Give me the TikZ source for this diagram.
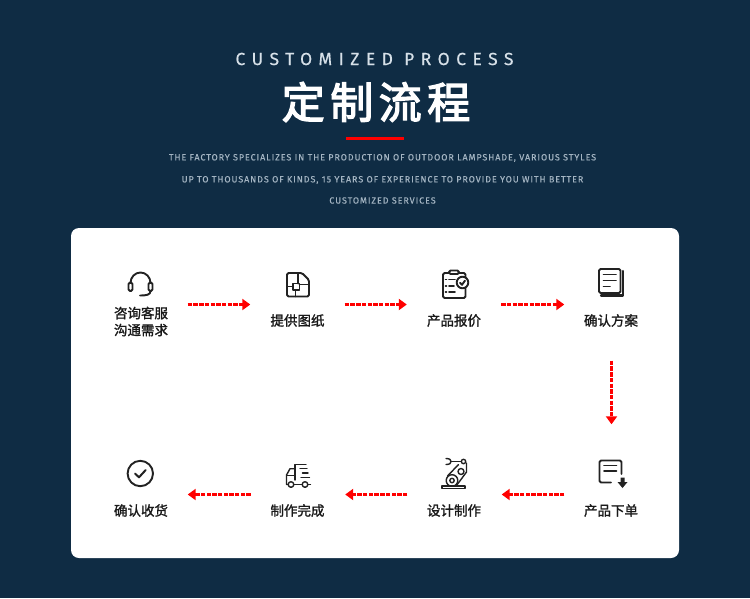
\documentclass[tikz,border=0pt]{standalone}
\usepackage{fontspec}
\setmainfont{Fira Sans}
\newfontfamily\cjk[FakeBold=1.5]{Noto Sans CJK SC}
\newfontfamily\cjkhead[FakeBold=3]{Noto Sans CJK SC}
\newfontfamily\headfont[LetterSpace=37,FakeBold=0.4]{Fira Sans}
\newfontfamily\subfont[LetterSpace=10.5,FakeBold=0.2]{Fira Sans}
\usetikzlibrary{arrows.meta,positioning}
\definecolor{navy}    {HTML}{0F2C44}
\definecolor{ink}     {HTML}{222222}
\definecolor{headtxt} {HTML}{D6E0E8}
\definecolor{subtxt}  {HTML}{A3B4C2}
\definecolor{flow}    {HTML}{FF0000}
\tikzset{
  >=stealth,
  % --- nodes
  slotrow/.style = {minimum width=94pt, minimum height=112pt, inner sep=0pt},
  slotlow/.style = {slotrow, minimum height=140pt},
  lbl/.style   = {font=\cjk\fontsize{13.5}{17}\selectfont, text=black!90, align=center, inner sep=0pt},
  sub/.style   = {font=\subfont\fontsize{8.95}{10}\selectfont, text=subtxt, inner sep=0pt},
  % --- edges
  e/.style     = {draw=flow, line width=2.1pt, dash pattern=on 4.4pt off 1.3pt,
                  -{Triangle[length=8pt,width=11pt]}},
  % --- icons
  ico/.style   = {draw=ink, line width=1.9pt, line cap=round, line join=round},
  icothin/.style = {ico, line width=1.4pt},
}
\begin{document}
\begin{tikzpicture}[x=1pt,y=-1pt]
  \useasboundingbox (0,0) rectangle (750,598);
  \fill[navy] (0,0) rectangle (750,598);
  \fill[white,rounded corners=8pt] (71,228) rectangle (679,558);

  % --- heading
  \node[font=\headfont\fontsize{17.5}{18}\selectfont, text=headtxt, inner sep=0pt] (head) at (374.5,59) {CUSTOMIZED PROCESS};
  \node[font=\cjkhead\fontsize{43}{46}\selectfont, text=white, inner sep=0pt] (title) at (376,102) {定\hspace{5.5pt}制\hspace{5.5pt}流\hspace{5.5pt}程};
  \fill[flow] (346,137) rectangle (404,140);
  \node[sub] (l1) at (382.5,158) {THE FACTORY SPECIALIZES IN THE PRODUCTION OF OUTDOOR LAMPSHADE, VARIOUS STYLES};
  \node[sub] (l2) at (382.5,180) {UP TO THOUSANDS OF KINDS, 15 YEARS OF EXPERIENCE TO PROVIDE YOU WITH BETTER};
  \node[sub] (l3) at (382.5,200.5) {CUSTOMIZED SERVICES};

  % --- slots
  \node[slotrow] (s1) at (140.5,304.5) {};
  \node[slotrow] (s2) at (297.5,304.5) {};
  \node[slotrow] (s3) at (454,304.5) {};
  \node[slotrow] (s4) at (611.5,304.5) {};
  \node[slotlow] (s5) at (611.5,494.5) {};
  \node[slotlow] (s6) at (454.5,494.5) {};
  \node[slotlow] (s7) at (298,494.5) {};
  \node[slotlow] (s8) at (140.5,494.5) {};

  \node[lbl] (t1) at (141,321.5) {咨询客服\\沟通需求};
  \node[lbl] (t2) at (297.5,320.5) {提供图纸};
  \node[lbl] (t3) at (454,320.5) {产品报价};
  \node[lbl] (t4) at (611,320.5) {确认方案};
  \node[lbl] (t5) at (611,510.5) {产品下单};
  \node[lbl] (t6) at (454,510.5) {设计制作};
  \node[lbl] (t7) at (297.5,510.5) {制作完成};
  \node[lbl] (t8) at (141,510.5) {确认收货};

  \draw[e] (s1.east)--(s2.west); \draw[e] (s2.east)--(s3.west); \draw[e] (s3.east)--(s4.west);
  \draw[e] (s4.south)--(s5.north);
  \draw[e] (s5.west)--(s6.east); \draw[e] (s6.west)--(s7.east); \draw[e] (s7.west)--(s8.east);

  % --- headset
  \draw[ico] (130.5,283) arc[start angle=180,end angle=360,x radius=10,y radius=10.5];
  \draw[ico,rounded corners=1.5pt] (128.5,282.5) rectangle (132.5,291);
  \draw[ico,rounded corners=1.5pt] (148.5,282.5) rectangle (152.5,291);
  \draw[ico] (150.5,291) .. controls (150.5,295) and (146,295.5) .. (140,295.5);

  % --- drawing sheet
  \draw[ico,rounded corners=1.5pt] (287,273) -- (302,273) -- (309,280) -- (309,296.5) -- (287,296.5) -- cycle;
  \draw[ico] (293,283.5) rectangle (299.5,290);
  \draw[ico] (287,286.5)--(293,286.5) (299.5,284.5)--(309,284.5) (295.5,290)--(295.5,296.5) (298,273)--(298,283.5);

  % --- clipboard
  \draw[ico,rounded corners=1.5pt] (456,273) -- (465.5,273) -- (465.5,298) -- (443,298) -- (443,273) -- (451,273);
  \draw[ico,fill=white,rounded corners=1.5pt] (449,274) -- (449,270.5) -- (459,270.5) -- (459,274) -- cycle;
  \draw[ico] (445.5,279.5)--(446.5,279.5) (449,279.5)--(455,279.5) (445.5,286)--(446.5,286) (449,286)--(454,286) (445.5,292)--(446.5,292) (449,292)--(455,292);
  \draw[ico,fill=white] (462.5,282.5) circle[radius=5.8];
  \draw[ico] (460,282.8)--(462,284.8)--(465,280.6);

  % --- documents
  \draw[ico,rounded corners=1.5pt] (599,269) rectangle (620.5,293);
  \draw[ico] (603.5,274.5)--(616,274.5) (603.5,280.5)--(616,280.5) (603.5,286.5)--(610,286.5);
  \draw[ico,line width=2.1pt] (623,271)--(623,295.5)--(601,295.5);

  % --- order form
  \draw[ico,rounded corners=1.5pt] (611,482.5) -- (599.5,482.5) -- (599.5,460.5) -- (621.5,460.5) -- (621.5,474);
  \draw[ico] (604,465.5)--(616.5,465.5) (604,471)--(616.5,471);
  \fill[ink] (620.5,477.5) rectangle (624.5,482) (617.5,482)--(627.5,482)--(622.5,488)--cycle;

  % --- robot arm
  \draw[icothin] (442,486) rectangle (465,488.5);
  \draw[icothin] (452,480.5) circle[radius=5.8] (452,480.5) circle[radius=2.2];
  \draw[icothin] (447.5,476) -- (458.5,464.5) (456.5,485.5) -- (466.5,472) -- (466.5,463);
  \draw[icothin] (461,471.5) circle[radius=3];
  \draw[icothin] (463.5,461.5) circle[radius=2.2];
  \draw[icothin] (461,461.5) -- (451,461.5);
  \draw[icothin] (446,458.5) .. controls (450,458.5) and (451,460) .. (451,461.5) .. controls (451,463) and (450,464.5) .. (446,464.5);

  % --- truck
  \draw[icothin] (295,480) -- (295,464.7) -- (306,464.7);
  \draw[icothin] (295,468.7) -- (290,468.7) -- (286.5,475) -- (286.5,484.5) -- (288,484.5);
  \draw[icothin] (287,475.5) -- (295,475.5);
  \draw[icothin] (291,484.5) circle[radius=2.8] (305,484.5) circle[radius=2.8];
  \draw[icothin] (294,484.5)--(302,484.5) (308,484.5)--(310.5,484.5);
  \draw[icothin] (300,468.7)--(307,468.7) (302.5,473)--(308,473) (301,477.5)--(309.5,477.5);

  % --- confirm
  \draw[ico] (140.3,473.5) circle[radius=12.7];
  \draw[ico,line width=2pt] (135,473.5)--(139,477.3)--(145.7,470);
\end{tikzpicture}
\end{document}
